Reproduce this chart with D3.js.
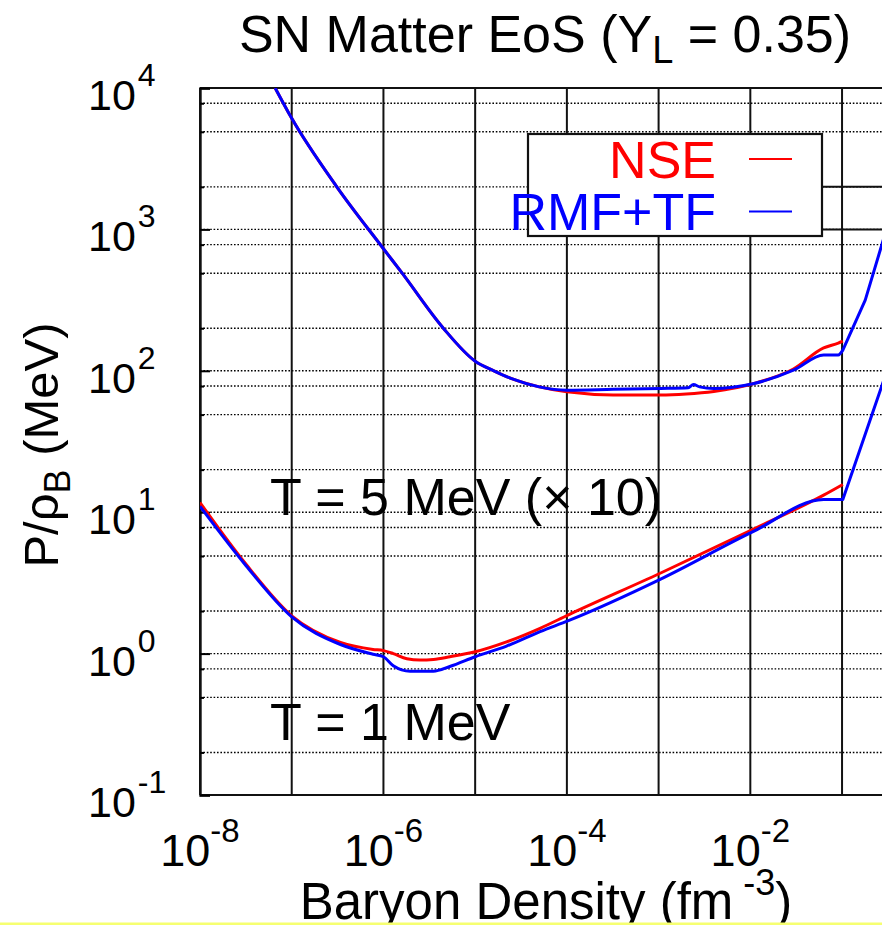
<!DOCTYPE html>
<html><head><meta charset="utf-8">
<script src="https://cdn.jsdelivr.net/npm/d3@7"></script>
<style>html,body{margin:0;padding:0;background:#fff;overflow:hidden}</style>
</head><body><svg id="chart" width="882" height="925"></svg>
<script>
// ---- data ----
const xTickExponents = [-8, -6, -4, -2];
const xGridExponents = [-8, -7, -6, -5, -4, -3, -2, -1, 0];
const yTickExponents = [-1, 0, 1, 2, 3, 4];
const yMinorMultipliers = [2, 4.9, 7.8];
const seriesNames = ["NSE", "RMF+TF"];
const seriesColors = ["#ff0000", "#0000ff"];
const kinkDensity = 1.02e-1;

// T = 5 MeV (x10), upper curves
const densT5nse = [6.6e-8, 1e-7, 3.1e-7, 1e-6, 1.6e-6, 4.5e-6, 1e-5, 1.6e-5, 2.5e-5, 5e-5, 1e-4, 3.2e-4, 1.05e-3, 2e-3, 4e-3, 1.07e-2, 2.95e-2, 6.3e-2, 9.1e-2, 1.02e-1];
const valT5nse  = [10000, 6100, 2000, 730, 490, 200, 117, 100, 88, 77, 71, 67.5, 67.5, 68.6, 71.5, 81, 103, 145, 157, 162];
const densT5rmf = [6.6e-8, 1e-7, 3.1e-7, 1e-6, 1.6e-6, 4.5e-6, 1e-5, 1.6e-5, 2.5e-5, 5e-5, 1e-4, 3.2e-4, 1.05e-3, 2.1e-3, 2.4e-3, 2.8e-3, 4e-3, 1.07e-2, 2.95e-2, 6.3e-2, 9.1e-2, 1.02e-1, 1.79e-1, 2.82e-1];
const valT5rmf  = [10000, 6100, 2000, 730, 490, 200, 117, 100, 88, 77, 73, 74, 75, 76, 80, 77, 75, 81, 101, 129.5, 129.5, 140, 316, 845];

// T = 1 MeV, lower curves
const densT1nse = [1e-8, 3.16e-8, 1e-7, 3.4e-7, 7.7e-7, 1e-6, 1.28e-6, 1.8e-6, 2.5e-6, 3.5e-6, 5.3e-6, 1e-5, 2.2e-5, 5.1e-5, 1.04e-4, 1.04e-3, 1.07e-2, 6.3e-2, 1.02e-1];
const valT1nse  = [11.7, 4.3, 1.85, 1.2, 1.07, 1.05, 1.0, 0.92, 0.90, 0.91, 0.95, 1.03, 1.21, 1.51, 1.88, 3.70, 7.57, 13.2, 15.7];
const densT1rmf = [1e-8, 3.16e-8, 1e-7, 3.4e-7, 7.7e-7, 1e-6, 1.28e-6, 1.95e-6, 3.5e-6, 5.3e-6, 1e-5, 2.2e-5, 5.1e-5, 1.04e-4, 1.04e-3, 1.07e-2, 6.3e-2, 1.02e-1, 2.82e-1];
const valT1rmf  = [11.0, 4.2, 1.82, 1.16, 0.99, 0.95, 0.82, 0.75, 0.75, 0.81, 0.95, 1.13, 1.43, 1.71, 3.35, 7.28, 12.3, 12.3, 84];

// ---- layout ----
const W = 882, H = 925;
const L = 200, T = 88, B = 795, decadeW = 91.72;
const FONT = "'Liberation Sans', Arial, Helvetica, sans-serif";

const svg = d3.select("#chart").attr("font-family", FONT);
svg.append("rect").attr("width", W).attr("height", H).attr("fill", "#fff");

const x = d3.scaleLog().domain([1e-8, 1e1]).range([L, L + 9 * decadeW]);
const y = d3.scaleLog().domain([1e-1, 1e4]).range([B, T]);

svg.append("clipPath").attr("id", "plotclip").append("rect")
  .attr("x", L).attr("y", T).attr("width", W - L).attr("height", B - T);

// horizontal dotted grid
const hVals = [];
yTickExponents.forEach(e => {
  hVals.push(Math.pow(10, e));
  if (e < 4) yMinorMultipliers.forEach(m => hVals.push(m * Math.pow(10, e)));
});
svg.append("g").selectAll("line").data(hVals.filter(v => v > 0.1 && v < 1e4)).join("line")
  .attr("x1", L).attr("x2", W).attr("y1", d => y(d)).attr("y2", d => y(d))
  .attr("stroke", "#000").attr("stroke-width", 1.4).attr("stroke-dasharray", "1.6,1.8");

// vertical solid grid
svg.append("g").selectAll("line").data(xGridExponents.map(e => Math.pow(10, e))).join("line")
  .attr("x1", d => x(d)).attr("x2", d => x(d)).attr("y1", T).attr("y2", B)
  .attr("stroke", "#111").attr("stroke-width", 2);

// axes frame (top and bottom borders)
svg.append("line").attr("x1", L).attr("x2", W).attr("y1", T).attr("y2", T).attr("stroke", "#111").attr("stroke-width", 2.2);
svg.append("line").attr("x1", L).attr("x2", W).attr("y1", B).attr("y2", B).attr("stroke", "#111").attr("stroke-width", 2.2);

// left axis ticks via d3 axis
const majorVals = yTickExponents.map(e => Math.pow(10, e));
const yAxis = svg.append("g").attr("transform", `translate(${L},0)`)
  .call(d3.axisLeft(y).tickValues(majorVals).tickSize(-10).tickFormat(""));
yAxis.select(".domain").attr("stroke", "#111").attr("stroke-width", 2.4);
yAxis.selectAll(".tick line").attr("stroke", "#000").attr("stroke-width", 2);
const yMinor = svg.append("g").attr("transform", `translate(${L},0)`)
  .call(d3.axisLeft(y).tickValues(hVals.filter(v => !majorVals.includes(v))).tickSize(-4).tickFormat(""));
yMinor.select(".domain").remove();
yMinor.selectAll(".tick line").attr("stroke", "#000").attr("stroke-width", 2);

// curves: smooth below the kink density, straight segments from it on
const smooth = d3.line().x(d => x(d[0])).y(d => y(d[1])).curve(d3.curveMonotoneX);
const straight = d3.line().x(d => x(d[0])).y(d => y(d[1]));
const curves = svg.append("g").attr("clip-path", "url(#plotclip)");
const zip = (a, b) => a.map((v, i) => [v, b[i]]);
[[densT5nse, valT5nse, 0], [densT1nse, valT1nse, 0], [densT5rmf, valT5rmf, 1], [densT1rmf, valT1rmf, 1]]
  .forEach(([dx, dy, s]) => {
    const pts = zip(dx, dy);
    const k = pts.findIndex(p => p[0] >= kinkDensity);
    const d = smooth(pts.slice(0, k + 1)) + (k < pts.length - 1 ? straight(pts.slice(k)).replace(/^M/, "L") : "");
    curves.append("path").attr("d", d)
      .attr("fill", "none").attr("stroke", seriesColors[s]).attr("stroke-width", 3)
      .attr("stroke-linejoin", "round");
  });

// y tick labels
yTickExponents.forEach(e => {
  const t = svg.append("text").attr("x", 88).attr("y", y(Math.pow(10, e)) + 22).attr("fill", "#000");
  t.append("tspan").attr("font-size", 43).text("10");
  t.append("tspan").attr("font-size", 32).attr("dy", -24).attr("dx", 2).text(String(e));
});

// x tick labels
xTickExponents.forEach(e => {
  const t = svg.append("text").attr("x", x(Math.pow(10, e))).attr("y", 866).attr("text-anchor", "middle").attr("fill", "#000");
  t.append("tspan").attr("font-size", 45).text("10");
  t.append("tspan").attr("font-size", 33).attr("dy", -24).text(String(e));
});

// title
const title = svg.append("text").attr("x", 545).attr("y", 52).attr("text-anchor", "middle").attr("font-size", 52);
title.append("tspan").text("SN Matter EoS (Y");
title.append("tspan").attr("font-size", 38).attr("dy", 11).text("L");
title.append("tspan").attr("dy", -11).text(" = 0.35)");

// axis titles
const xt = svg.append("text").attr("x", 546).attr("y", 919).attr("text-anchor", "middle").attr("font-size", 51);
xt.append("tspan").text("Baryon Density (fm");
xt.append("tspan").attr("font-size", 36).attr("dy", -24).attr("dx", 10).text("-3");
xt.append("tspan").attr("dy", 24).text(")");

const yt = svg.append("text").attr("transform", "translate(58,445) rotate(-90)").attr("text-anchor", "middle").attr("font-size", 49);
yt.append("tspan").text("P/ρ");
yt.append("tspan").attr("font-size", 36).attr("dy", 12).text("B");
yt.append("tspan").attr("dy", -12).text(" (MeV)");

// annotations
svg.append("text").attr("x", 270).attr("y", 515).attr("font-size", 52).text("T = 5 MeV (× 10)");
svg.append("text").attr("x", 270).attr("y", 740).attr("font-size", 52).text("T = 1 MeV");

// extra solid lines at right (neighbouring key box edges)
const legR = 822;
[1000, 2000].forEach(v => {
  svg.append("line").attr("x1", legR).attr("x2", W).attr("y1", y(v)).attr("y2", y(v)).attr("stroke", "#111").attr("stroke-width", 2);
});

// legend
const leg = svg.append("g");
leg.append("rect").attr("x", 528).attr("y", 134).attr("width", legR - 528).attr("height", 102)
  .attr("fill", "#fff").attr("stroke", "#111").attr("stroke-width", 2.2);
seriesNames.forEach((n, i) => {
  const yy = 159 + i * 52.5;
  leg.append("text").attr("x", 716).attr("y", yy + 18.5).attr("text-anchor", "end")
    .attr("font-size", 52).attr("fill", seriesColors[i]).text(n);
  leg.append("line").attr("x1", 749).attr("x2", 792).attr("y1", yy).attr("y2", yy)
    .attr("stroke", seriesColors[i]).attr("stroke-width", 2);
});

// thin yellow strip at the bottom edge
svg.append("rect").attr("x", 0).attr("y", 922.5).attr("width", W).attr("height", 2.5).attr("fill", "#f6ff70");
</script></body></html>
